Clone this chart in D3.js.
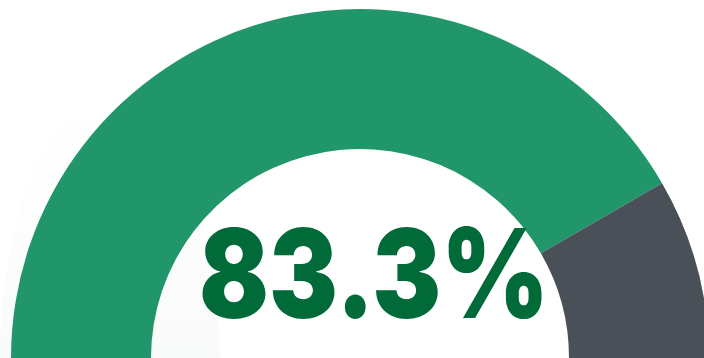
<!DOCTYPE html>
<html>
<head>
<meta charset="utf-8">
<script src="https://cdn.jsdelivr.net/npm/d3@7"></script>
<style>
  html, body { margin: 0; padding: 0; background: #ffffff; }
  svg { display: block; }
</style>
</head>
<body>
<div id="chart"></div>
<script>
// gauge data
const segments = ["done", "remaining"];
const values = [83.3, 16.7];
const colors = ["#22966b", "#4a5058"];
const labelText = ["83.3%"];

const width = 704, height = 358;
const cx = 360, cy = 358;
const outerR = 349, innerR = 209;

const svg = d3.select("#chart").append("svg")
  .attr("width", width)
  .attr("height", height);

// faint background glow bottom left
const defs = svg.append("defs");
const grad = defs.append("linearGradient")
  .attr("id", "glow")
  .attr("x1", 0).attr("y1", 0).attr("x2", 0).attr("y2", 1);
grad.append("stop").attr("offset", "0%").attr("stop-color", "#ffffff");
grad.append("stop").attr("offset", "100%").attr("stop-color", "#f3f6f5");

svg.append("ellipse")
  .attr("cx", 110).attr("cy", 358)
  .attr("rx", 110).attr("ry", 260)
  .attr("fill", "url(#glow)");

// half donut, from -90deg to +90deg
const pie = d3.pie()
  .sort(null)
  .startAngle(-Math.PI / 2)
  .endAngle(Math.PI / 2);

const arc = d3.arc()
  .innerRadius(innerR)
  .outerRadius(outerR);

const g = svg.append("g").attr("transform", `translate(${cx},${cy})`);

g.selectAll("path")
  .data(pie(values))
  .enter()
  .append("path")
  .attr("d", arc)
  .attr("fill", (d, i) => colors[i]);

// big value label, cap height ~90px, squeezed to the width in the picture
const fs = 124;
const lg = svg.append("g");
const label = lg.append("text")
  .text(labelText[0])
  .attr("font-family", "Inter, Roboto, 'DejaVu Sans', sans-serif")
  .attr("font-weight", 900)
  .attr("font-size", fs)
  .attr("fill", "#006b38");

const box = label.node().getBBox();
const sx = 350 / box.width;
lg.attr("transform", `translate(${199 - box.x * sx},318) scale(${sx},1)`);
</script>
</body>
</html>
